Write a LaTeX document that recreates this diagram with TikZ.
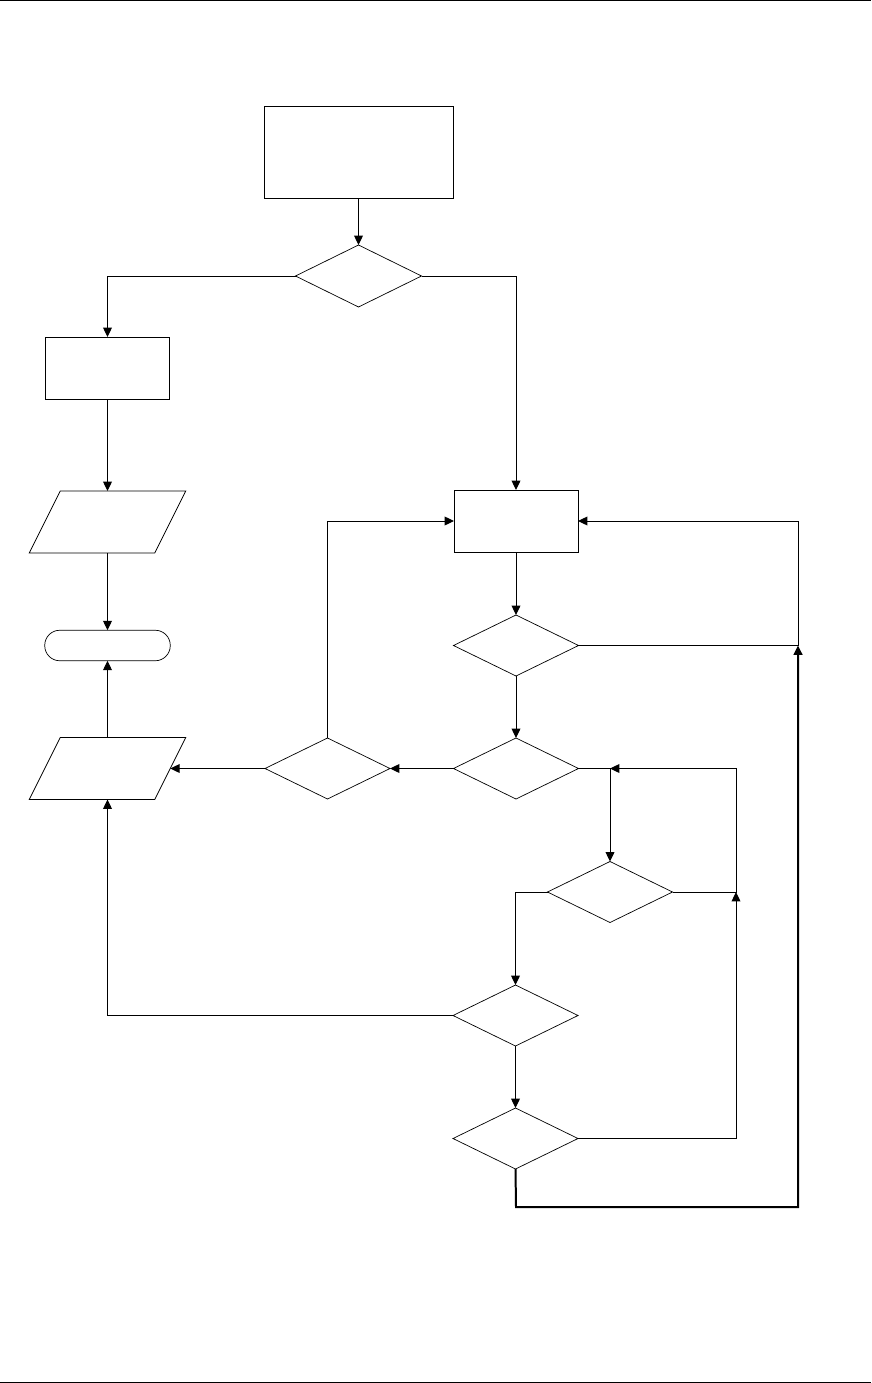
\documentclass[tikz,border=0pt]{standalone}
\usepackage{pgf,tikz}
\usetikzlibrary{shapes.geometric,arrows.meta}

\begin{document}
\begin{tikzpicture}[x=0.03cm,y=-0.03cm,
		box/.style={draw,rectangle,inner sep=0pt,outer sep=0pt,line width=0.85pt},
		dec/.style={draw,diamond,inner sep=0pt,outer sep=0pt,line width=0.6pt,minimum width=3.75cm,minimum height=1.83cm},
		io/.style={rectangle,inner sep=0pt,outer sep=0pt,minimum width=3.765cm,minimum height=1.86cm},
		term/.style={draw,rectangle,rounded corners=0.45cm,inner sep=0pt,outer sep=0pt,line width=0.6pt,minimum width=3.765cm,minimum height=0.915cm},
		link/.style={-{Triangle[length=8pt,width=7.5pt]},line width=0.85pt}]
		\useasboundingbox (0,0) rectangle (871,1383);
		\draw[line width=0.85pt] (0,1) -- (871,1);
		\draw[line width=0.85pt] (0,1382) -- (871,1382);

		\node[box,minimum width=5.67cm,minimum height=2.76cm] (start) at (358.5,152.5) {};
		\node[dec,minimum width=3.78cm,minimum height=1.86cm] (d1) at (358.5,276) {};
		\node[box,minimum width=3.735cm,minimum height=1.86cm] (r2) at (107.5,368) {};
		\node[io] (io1) at (107.5,522) {};
		\node[term] (end) at (107.5,645.5) {};
		\node[io] (io2) at (107.5,768.5) {};
		\foreach \n in {io1,io2}
			\draw[line width=0.6pt] ([xshift=0.465cm]\n.north west) -- ([xshift=0.465cm]\n.north east)
				-- ([xshift=-0.465cm]\n.south east) -- ([xshift=-0.465cm]\n.south west) -- cycle;

		\node[box,minimum width=3.72cm,minimum height=1.86cm] (r3) at (516,521) {};
		\node[dec] (d2) at (516,645.5) {};
		\node[dec] (d3) at (516,768.5) {};
		\node[dec] (dl) at (327.5,768.5) {};
		\node[dec] (d4) at (610,892) {};
		\node[dec] (d5) at (515.5,1015.5) {};
		\node[dec] (d6) at (515.5,1138.5) {};

		\coordinate (jA) at (736,892);
		\coordinate (jB) at (798,645.5);
		\coordinate (jC) at (d4.north |- d3.east);
		\coordinate (jD) at (516,1207);

		\draw[link] (start.south) -- (d1.north);
		\draw[link] (d1.west) -| (r2.north);
		\draw[link] (d1.east) -| (r3.north);
		\draw[link] (r2.south) -- (io1.north);
		\draw[link] (io1.south) -- (end.north);
		\draw[link] (io2.north) -- (end.south);
		\draw[link] (d5.west) -| (io2.south);
		\draw[link] (dl.west) -- (io2.east);
		\draw[link] (d3.west) -- (dl.east);
		\draw[link] (dl.north) |- (r3.west);
		\draw[link] (r3.south) -- (d2.north);
		\draw[link] (d2.east) -- (jB) |- (r3.east);
		\draw[link] (d2.south) -- (d3.north);
		\draw[link] (d3.east) -| (d4.north);
		\draw[link] (d4.east) -- (jA) |- (jC);
		\draw[link] (d4.west) -| (d5.north);
		\draw[link] (d5.south) -- (d6.north);
		\draw[link] (d6.east) -| (jA);
		\draw[link,line width=1.7pt] (d6.south) -- (jD) -| (jB);
\end{tikzpicture}
\end{document}
